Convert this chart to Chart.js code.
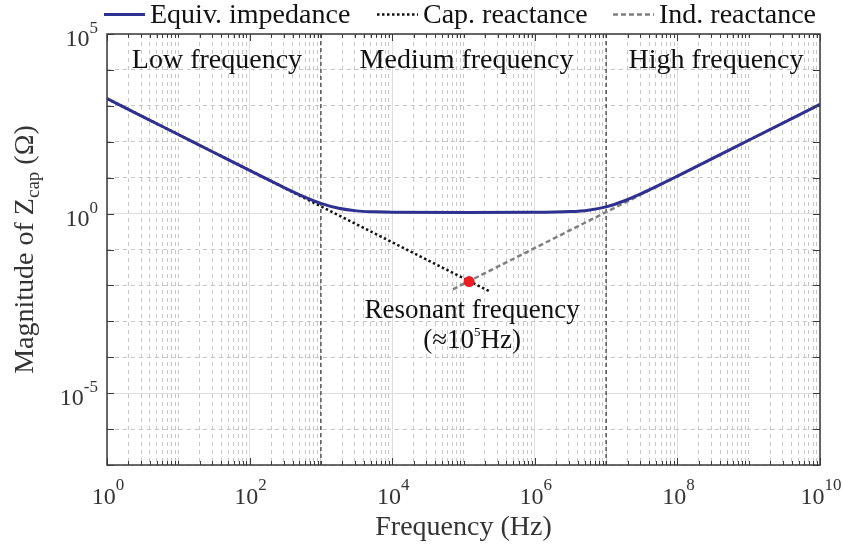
<!DOCTYPE html>
<html>
<head>
<meta charset="utf-8">
<title>Capacitor impedance</title>
<script src="https://cdn.jsdelivr.net/npm/chart.js@4.4.1/dist/chart.umd.min.js"></script>
<style>
  html, body { margin: 0; padding: 0; background: #fff; }
  #wrap { width: 843px; height: 546px; position: relative; }
</style>
</head>
<body>
<div id="wrap"><canvas id="zcap"></canvas></div>
<script>
// values (Hz and ohms)
const freqHz = [1, 3.16, 10, 31.6, 100, 316, 562, 1000, 1780, 3160, 5620, 1e4, 1e5, 1e6, 3.16e6, 5.62e6, 1e7, 1.78e7, 3.16e7, 5.62e7, 1e8, 1e9, 1e10];
const equivImpedance = [1592, 503, 159, 50.3, 15.95, 5.14, 3.03, 1.92, 1.40, 1.19, 1.12, 1.09, 1.08, 1.085, 1.135, 1.245, 1.54, 2.24, 3.64, 6.27, 11.05, 110, 1100];

const capFreqHz = [1, 2.4e5];
const capReactance = [1592, 0.0066];

const indFreqHz = [7.1e4, 1e10];
const indReactance = [0.0078, 1100];

const resonanceHz = [1.2e5];
const resonanceMag = [0.0128];

// borders between the low / medium / high regions
const regionEdgesHz = [1e3, 1e7];
const regionNames = ['Low frequency', 'Medium frequency', 'High frequency'];

// tick labels (written as 10^n)
const xTickValues = [1, 1e2, 1e4, 1e6, 1e8, 1e10];
const xTickExps = ['0', '2', '4', '6', '8', '10'];
const yTickValues = [1e-5, 1, 1e5];
const yTickExps = ['-5', '0', '5'];

const X_MIN = 1, X_MAX = 1e10, Y_MIN = 1e-7, Y_MAX = 1e5;
const FONT = "'Liberation Serif', 'Times New Roman', serif";

function pts(xs, ys) {
  return xs.map((x, i) => ({ x: x, y: ys[i] }));
}

// minor grid positions: 2..9 x 10^n plus the decades that carry no label
function xMinorTicks() {
  const out = [];
  for (let n = 0; n < 10; n++) {
    for (let m = 1; m < 10; m++) {
      const v = m * Math.pow(10, n);
      if (m === 1 && n % 2 === 0) continue;
      out.push(v);
    }
  }
  return out;
}
function yMinorTicks() {
  const out = [];
  for (let n = -7; n <= 5; n++) {
    if (n % 5 !== 0) out.push(Math.pow(10, n));
  }
  return out;
}

function logAxis(extra) {
  return Object.assign({
    type: 'logarithmic',
    ticks: { display: false },
    border: { display: false },
  }, extra);
}

// draws "10" with a raised exponent, x is the centre or right edge
function drawPow(ctx, exp, x, y, align, big, small, lift) {
  ctx.font = big + 'px ' + FONT;
  const w1 = ctx.measureText('10').width;
  ctx.font = small + 'px ' + FONT;
  const w2 = ctx.measureText(exp).width;
  const left = align === 'right' ? x - w1 - w2 : x - (w1 + w2) / 2;
  ctx.textAlign = 'left';
  ctx.font = big + 'px ' + FONT;
  ctx.fillText('10', left, y);
  ctx.font = small + 'px ' + FONT;
  ctx.fillText(exp, left + w1, y - lift);
}

const decor = {
  id: 'decor',
  afterDraw(chart) {
    const ctx = chart.ctx;
    const a = chart.chartArea;
    const xs = chart.scales.x, ys = chart.scales.y;
    ctx.save();

    // axes box
    ctx.strokeStyle = '#3a3a3a';
    ctx.lineWidth = 1.5;
    ctx.strokeRect(a.left, a.top, a.right - a.left, a.bottom - a.top);

    // inward tick marks like matlab
    ctx.lineWidth = 1;
    ctx.beginPath();
    xs.ticks.forEach(t => {
      const px = Math.round(xs.getPixelForValue(t.value)) + 0.5;
      ctx.moveTo(px, a.bottom); ctx.lineTo(px, a.bottom - 7);
      ctx.moveTo(px, a.top); ctx.lineTo(px, a.top + 7);
    });
    chart.scales.xMinor.ticks.forEach(t => {
      const px = Math.round(xs.getPixelForValue(t.value)) + 0.5;
      ctx.moveTo(px, a.bottom); ctx.lineTo(px, a.bottom - 4);
      ctx.moveTo(px, a.top); ctx.lineTo(px, a.top + 4);
    });
    ys.ticks.concat(chart.scales.yMinor.ticks).forEach(t => {
      const py = Math.round(ys.getPixelForValue(t.value)) + 0.5;
      ctx.moveTo(a.left, py); ctx.lineTo(a.left + 7, py);
      ctx.moveTo(a.right, py); ctx.lineTo(a.right - 7, py);
    });
    ctx.stroke();

    // tick labels
    ctx.fillStyle = '#333';
    ctx.textBaseline = 'alphabetic';
    xTickValues.forEach((v, i) => {
      drawPow(ctx, xTickExps[i], xs.getPixelForValue(v) + 1, a.bottom + 39, 'center', 24, 17, 14);
    });
    yTickValues.forEach((v, i) => {
      drawPow(ctx, yTickExps[i], 98, ys.getPixelForValue(v) + 12, 'right', 24, 17, 13);
    });

    // y title with subscript
    const cy = (a.top + a.bottom) / 2;
    ctx.font = '28px ' + FONT;
    const p1 = 'Magnitude of Z', p3 = ' (\u03A9)';
    const w1 = ctx.measureText(p1).width, w3 = ctx.measureText(p3).width;
    ctx.font = '19px ' + FONT;
    const w2 = ctx.measureText('cap').width;
    const W = w1 + w2 + w3;
    ctx.save();
    ctx.translate(33, cy);
    ctx.rotate(-Math.PI / 2);
    ctx.textAlign = 'left';
    ctx.font = '28px ' + FONT;
    ctx.fillText(p1, -W / 2, 0);
    ctx.font = '19px ' + FONT;
    ctx.fillText('cap', -W / 2 + w1, 6);
    ctx.font = '28px ' + FONT;
    ctx.fillText(p3, -W / 2 + w1 + w2, 0);
    ctx.restore();

    // region names, centred in each band
    const edges = [X_MIN].concat(regionEdgesHz, [X_MAX]);
    ctx.fillStyle = '#111';
    ctx.font = '28px ' + FONT;
    ctx.textAlign = 'center';
    regionNames.forEach((name, i) => {
      const mid = Math.sqrt(edges[i] * edges[i + 1]);
      ctx.fillText(name, xs.getPixelForValue(mid) + 3, 68);
    });

    // resonance note under the red dot
    const rx = xs.getPixelForValue(resonanceHz[0]) + 3;
    const ry = ys.getPixelForValue(resonanceMag[0]);
    ctx.font = '27px ' + FONT;
    ctx.fillText('Resonant frequency', rx, ry + 36);
    const q1 = '(\u224810', q3 = 'Hz)';
    const qa = ctx.measureText(q1).width, qc = ctx.measureText(q3).width;
    ctx.font = '13px ' + FONT;
    const qb = ctx.measureText('5').width;
    let qx = rx - (qa + qb + qc) / 2;
    ctx.textAlign = 'left';
    ctx.font = '27px ' + FONT;
    ctx.fillText(q1, qx, ry + 66);
    ctx.font = '13px ' + FONT;
    ctx.fillText('5', qx + qa, ry + 54);
    ctx.font = '27px ' + FONT;
    ctx.fillText(q3, qx + qa + qb, ry + 66);

    // legend along the top, samples use the dataset styles
    const legendItems = [
      { ds: 1, lineX: 104 },
      { ds: 2, lineX: 377 },
      { ds: 3, lineX: 613 }
    ];
    legendItems.forEach(item => {
      const d = chart.data.datasets[item.ds];
      ctx.strokeStyle = d.borderColor;
      ctx.lineWidth = d.borderWidth;
      ctx.setLineDash(d.borderDash || []);
      ctx.beginPath();
      ctx.moveTo(item.lineX, 14.5);
      ctx.lineTo(item.lineX + 41, 14.5);
      ctx.stroke();
      ctx.setLineDash([]);
      ctx.fillStyle = '#111';
      ctx.font = '28px ' + FONT;
      ctx.textAlign = 'left';
      ctx.fillText(d.label, item.lineX + 46, 23);
    });

    ctx.restore();
  }
};

const boundarySets = regionEdgesHz.map(f => ({
  label: 'edge',
  data: pts([f, f], [Y_MIN, Y_MAX]),
  borderColor: '#3c3c3c',
  borderWidth: 1.3,
  borderDash: [4, 3],
  pointRadius: 0
}));

new Chart(document.getElementById('zcap'), {
  type: 'line',
  data: {
    datasets: [
      {
        label: 'Resonance',
        data: pts(resonanceHz, resonanceMag),
        showLine: false,
        pointRadius: 5.5,
        pointBackgroundColor: '#ee1d23',
        pointBorderWidth: 0
      },
      {
        label: 'Equiv. impedance',
        data: pts(freqHz, equivImpedance),
        borderColor: '#2e3192',
        borderWidth: 3,
        pointRadius: 0,
        cubicInterpolationMode: 'monotone'
      },
      {
        label: 'Cap. reactance',
        data: pts(capFreqHz, capReactance),
        borderColor: '#111111',
        borderWidth: 2.5,
        borderDash: [2.5, 2.5],
        pointRadius: 0
      },
      {
        label: 'Ind. reactance',
        data: pts(indFreqHz, indReactance),
        borderColor: '#7f7f7f',
        borderWidth: 2.5,
        borderDash: [5, 3],
        pointRadius: 0
      }
    ].concat(boundarySets)
  },
  options: {
    responsive: true,
    maintainAspectRatio: false,
    animation: false,
    devicePixelRatio: 1,
    layout: { padding: { top: 34, right: 23, left: 0, bottom: 0 } },
    plugins: { legend: { display: false }, tooltip: { enabled: false } },
    scales: {
      x: logAxis({
        position: 'bottom', min: X_MIN, max: X_MAX,
        afterBuildTicks: s => { s.ticks = xTickValues.map(v => ({ value: v })); },
        grid: { color: '#dedede', lineWidth: 1, drawTicks: false },
        title: { display: true, text: 'Frequency (Hz)', color: '#333', font: { family: FONT, size: 28 }, padding: { top: 0, bottom: 2 } },
        afterFit: s => { s.height = 81; }
      }),
      xMinor: logAxis({
        position: 'bottom', min: X_MIN, max: X_MAX,
        afterBuildTicks: s => { s.ticks = xMinorTicks().map(v => ({ value: v })); },
        grid: { color: '#c6c6c6', lineWidth: 1, drawTicks: false },
        border: { display: false, dash: [4, 4] },
        afterFit: s => { s.height = 0; }
      }),
      y: logAxis({
        position: 'left', min: Y_MIN, max: Y_MAX,
        afterBuildTicks: s => { s.ticks = yTickValues.map(v => ({ value: v })); },
        grid: { color: '#dedede', lineWidth: 1, drawTicks: false },
        afterFit: s => { s.width = 107; }
      }),
      yMinor: logAxis({
        position: 'left', min: Y_MIN, max: Y_MAX,
        afterBuildTicks: s => { s.ticks = yMinorTicks().map(v => ({ value: v })); },
        grid: { color: '#c6c6c6', lineWidth: 1, drawTicks: false },
        border: { display: false, dash: [4, 4] },
        afterFit: s => { s.width = 0; }
      })
    }
  },
  plugins: [decor]
});
</script>
</body>
</html>
